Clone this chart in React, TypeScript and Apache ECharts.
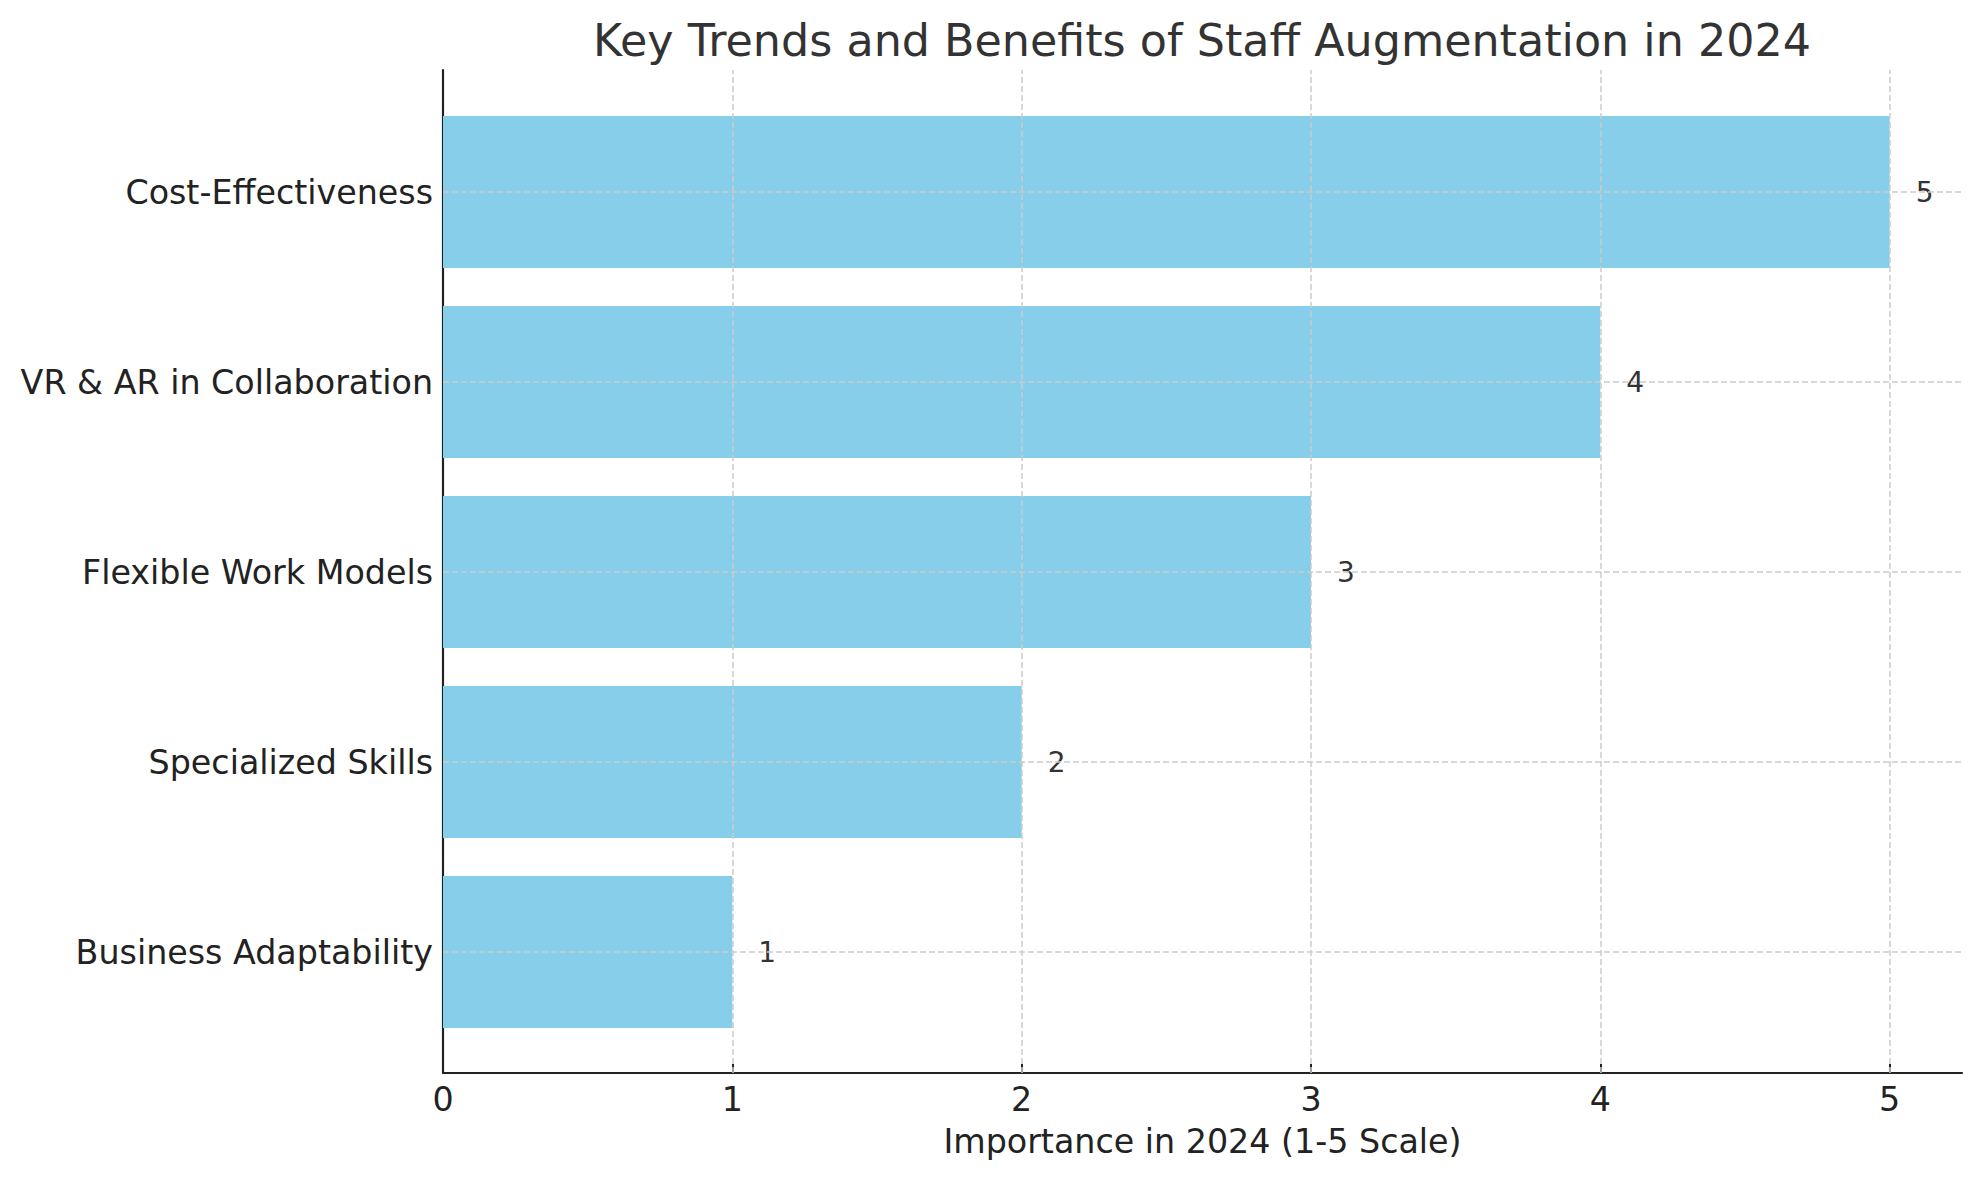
import React, { useEffect, useRef } from "react";
import * as echarts from "echarts";

const categories = [
  "Business Adaptability",
  "Specialized Skills",
  "Flexible Work Models",
  "VR & AR in Collaboration",
  "Cost-Effectiveness",
];
const importance = [1, 2, 3, 4, 5];
const xTicks = [0, 1, 2, 3, 4, 5];
const titleText = "Key Trends and Benefits of Staff Augmentation in 2024";
const xAxisTitle = "Importance in 2024 (1-5 Scale)";

const FONT = "DejaVu Sans";

export default function App() {
  const ref = useRef<HTMLDivElement>(null);
  useEffect(() => {
    document.body.style.margin = "0";
    const chart = echarts.init(ref.current!, null, { renderer: "svg" });
    const gridLine = { color: "#cccccc", type: [6, 3] as any, width: 1.5 };
    const option: any = {
      animation: false,
      backgroundColor: "#ffffff",
      textStyle: { fontFamily: FONT },
      graphic: [
        {
          type: "text",
          x: 1202,
          y: 40,
          style: {
            text: titleText,
            font: `44.4px '${FONT}'`,
            fill: "#333333",
            textAlign: "center",
            textVerticalAlign: "middle",
          },
        },
      ],
      grid: [
        { left: 443, right: 17, top: 70, bottom: 107 },
        { left: 443, right: 17, top: 97, bottom: 133 },
      ],
      xAxis: [
        {
          type: "value",
          gridIndex: 0,
          min: 0,
          max: 5.25,
          interval: 1,
          name: xAxisTitle,
          nameLocation: "middle",
          nameGap: 52,
          nameTextStyle: { fontSize: 33.3, color: "#222222", fontFamily: FONT },
          axisLine: { show: true, onZero: false, lineStyle: { color: "#222222", width: 2.2 } },
          axisTick: { show: true, inside: true, length: 9, customValues: xTicks, lineStyle: { color: "#222222", width: 2 } },
          axisLabel: {
            show: true,
            customValues: xTicks,
            fontSize: 33.3,
            color: "#222222",
            fontFamily: FONT,
            margin: 10,
            formatter: (v: number) => (Number.isInteger(v) ? String(v) : ""),
          },
          splitLine: { show: false },
        },
        {
          type: "value",
          gridIndex: 1,
          min: 0,
          max: 5.25,
          show: false,
          splitLine: { show: false },
        },
      ],
      yAxis: [
        {
          type: "value",
          gridIndex: 0,
          min: -0.64,
          max: 4.64,
          axisLine: { show: true, onZero: false, lineStyle: { color: "#222222", width: 2.2 } },
          axisTick: { show: false },
          axisLabel: { show: false },
          splitLine: { show: false },
        },
        {
          type: "category",
          gridIndex: 1,
          data: categories,
          axisLine: { show: false },
          axisTick: { show: true, inside: true, alignWithLabel: true, length: 8, lineStyle: { color: "#222222", width: 2 } },
          axisLabel: { fontSize: 33.3, color: "#222222", fontFamily: FONT, margin: 10 },
          splitLine: { show: false },
        },
      ],
      series: [
        {
          type: "bar",
          xAxisIndex: 1,
          yAxisIndex: 1,
          data: importance,
          barWidth: 152,
          itemStyle: { color: "#87CEEB" },
          label: {
            show: true,
            position: "right",
            distance: 26,
            fontSize: 28,
            color: "#333333",
            fontFamily: FONT,
          },
          z: 2,
        },
        {
          type: "line",
          xAxisIndex: 0,
          yAxisIndex: 0,
          data: [[0, -0.64]],
          symbol: "none",
          showSymbol: false,
          lineStyle: { opacity: 0 },
          silent: true,
          z: 5,
          markLine: {
            silent: true,
            symbol: "none",
            label: { show: false },
            lineStyle: gridLine,
            data: [
              ...xTicks.filter((t) => t > 0).map((t) => ({ xAxis: t })),
              ...categories.map((_, i) => ({ yAxis: i })),
            ],
          },
        },
      ],
    };
    chart.setOption(option);
    return () => chart.dispose();
  }, []);
  return <div ref={ref} style={{ width: 1979, height: 1180 }} />;
}
